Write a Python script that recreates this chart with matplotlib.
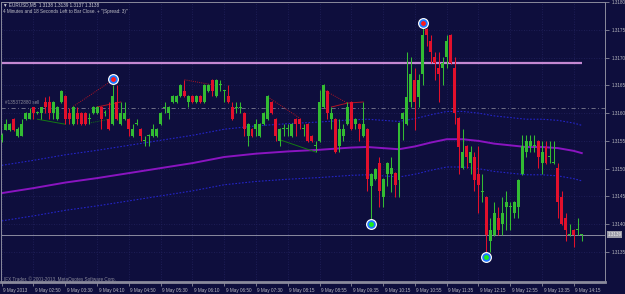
import numpy as np
import matplotlib
matplotlib.use("Agg")
import matplotlib.pyplot as plt
from matplotlib.transforms import ScaledTranslation, blended_transform_factory

plt.rcParams['font.family'] = ['Liberation Sans', 'DejaVu Sans']

# ---------------- data ----------------
symbol = "EURUSD,M5"
header_prices = ["1.3138", "1.3139", "1.3137", "1.3138"]
timer_text = "4 Minutes and 18 Seconds Left to Bar Close. + ''(Spread: 3)''"
copyright_text = "IFX Trader, \u00a9 2001-2013, MetaQuotes Software Corp."
order_label = "#135372880 sell"

opens = [1.31552, 1.31570, 1.31570, 1.31589, 1.31559, 1.31559, 1.31589, 1.31589, 1.31611, 1.31600,
         1.31600, 1.31620, 1.31620, 1.31600, 1.31589, 1.31620, 1.31631, 1.31600, 1.31580, 1.31600,
         1.31600, 1.31600, 1.31589, 1.31600, 1.31600, 1.31611, 1.31600, 1.31589, 1.31580, 1.31620,
         1.31580, 1.31589, 1.31589, 1.31559, 1.31580, 1.31571, 1.31550, 1.31559, 1.31559, 1.31559,
         1.31580, 1.31609, 1.31600, 1.31620, 1.31620, 1.31631, 1.31640, 1.31620, 1.31631, 1.31620,
         1.31631, 1.31620, 1.31640, 1.31660, 1.31631, 1.31650, 1.31640, 1.31631, 1.31611, 1.31610,
         1.31610, 1.31600, 1.31559, 1.31571, 1.31571, 1.31559, 1.31580, 1.31589, 1.31620, 1.31589,
         1.31550, 1.31571, 1.31571, 1.31559, 1.31589, 1.31589, 1.31571, 1.31580, 1.31559, 1.31541,
         1.31550, 1.31611, 1.31640, 1.31589, 1.31589, 1.31541, 1.31559, 1.31580, 1.31620, 1.31580,
         1.31580, 1.31559, 1.31571, 1.31469, 1.31481, 1.31510, 1.31449, 1.31490, 1.31490, 1.31492,
         1.31480, 1.31589, 1.31580, 1.31620, 1.31660, 1.31629, 1.31670, 1.31751, 1.31730, 1.31701,
         1.31681, 1.31681, 1.31701, 1.31741, 1.31681, 1.31591, 1.31501, 1.31541, 1.31510, 1.31521,
         1.31490, 1.31458, 1.31449, 1.31370, 1.31381, 1.31411, 1.31400, 1.31431, 1.31431, 1.31420,
         1.31431, 1.31490, 1.31530, 1.31541, 1.31541, 1.31550, 1.31510, 1.31539, 1.31521, 1.31510,
         1.31501, 1.31449, 1.31411, 1.31381, 1.31390, 1.31389, 1.31380]
highs = [1.31565, 1.31589, 1.31582, 1.31592, 1.31575, 1.31589, 1.31602, 1.31609, 1.31611, 1.31603,
         1.31611, 1.31629, 1.31631, 1.31622, 1.31613, 1.31642, 1.31633, 1.31609, 1.31613, 1.31611,
         1.31602, 1.31602, 1.31600, 1.31613, 1.31613, 1.31613, 1.31605, 1.31620, 1.31651, 1.31651,
         1.31620, 1.31620, 1.31591, 1.31580, 1.31589, 1.31573, 1.31559, 1.31562, 1.31580, 1.31573,
         1.31602, 1.31620, 1.31613, 1.31633, 1.31633, 1.31653, 1.31660, 1.31633, 1.31633, 1.31633,
         1.31633, 1.31653, 1.31653, 1.31662, 1.31662, 1.31660, 1.31642, 1.31651, 1.31620, 1.31620,
         1.31620, 1.31602, 1.31582, 1.31573, 1.31589, 1.31582, 1.31602, 1.31633, 1.31622, 1.31591,
         1.31573, 1.31580, 1.31580, 1.31582, 1.31591, 1.31591, 1.31580, 1.31582, 1.31561, 1.31550,
         1.31642, 1.31653, 1.31642, 1.31611, 1.31591, 1.31589, 1.31580, 1.31620, 1.31622, 1.31591,
         1.31582, 1.31620, 1.31573, 1.31492, 1.31501, 1.31521, 1.31483, 1.31512, 1.31521, 1.31494,
         1.31584, 1.31602, 1.31710, 1.31701, 1.31681, 1.31670, 1.31753, 1.31753, 1.31741, 1.31710,
         1.31710, 1.31701, 1.31741, 1.31743, 1.31701, 1.31593, 1.31571, 1.31543, 1.31541, 1.31530,
         1.31541, 1.31490, 1.31451, 1.31411, 1.31440, 1.31431, 1.31449, 1.31460, 1.31440, 1.31442,
         1.31482, 1.31561, 1.31561, 1.31561, 1.31561, 1.31552, 1.31550, 1.31550, 1.31550, 1.31550,
         1.31510, 1.31460, 1.31420, 1.31400, 1.31392, 1.31411, 1.31383]
lows = [1.31548, 1.31570, 1.31568, 1.31568, 1.31557, 1.31559, 1.31587, 1.31589, 1.31589, 1.31598,
        1.31589, 1.31600, 1.31589, 1.31589, 1.31587, 1.31618, 1.31580, 1.31580, 1.31578, 1.31580,
        1.31578, 1.31578, 1.31580, 1.31598, 1.31598, 1.31571, 1.31595, 1.31569, 1.31578, 1.31587,
        1.31578, 1.31587, 1.31559, 1.31557, 1.31578, 1.31550, 1.31541, 1.31541, 1.31557, 1.31557,
        1.31578, 1.31600, 1.31589, 1.31618, 1.31618, 1.31629, 1.31629, 1.31611, 1.31618, 1.31618,
        1.31618, 1.31618, 1.31638, 1.31631, 1.31629, 1.31640, 1.31620, 1.31618, 1.31587, 1.31600,
        1.31600, 1.31559, 1.31541, 1.31557, 1.31559, 1.31557, 1.31578, 1.31587, 1.31598, 1.31550,
        1.31541, 1.31559, 1.31559, 1.31557, 1.31559, 1.31571, 1.31559, 1.31548, 1.31548, 1.31530,
        1.31548, 1.31609, 1.31589, 1.31571, 1.31528, 1.31530, 1.31550, 1.31578, 1.31569, 1.31571,
        1.31550, 1.31557, 1.31460, 1.31409, 1.31479, 1.31431, 1.31431, 1.31469, 1.31458, 1.31449,
        1.31449, 1.31552, 1.31578, 1.31611, 1.31570, 1.31611, 1.31651, 1.31721, 1.31690, 1.31660,
        1.31620, 1.31651, 1.31681, 1.31688, 1.31580, 1.31490, 1.31499, 1.31501, 1.31490, 1.31460,
        1.31420, 1.31440, 1.31350, 1.31350, 1.31379, 1.31381, 1.31381, 1.31390, 1.31390, 1.31411,
        1.31411, 1.31488, 1.31521, 1.31530, 1.31530, 1.31501, 1.31490, 1.31508, 1.31510, 1.31508,
        1.31411, 1.31398, 1.31370, 1.31379, 1.31359, 1.31381, 1.31370]
closes = [1.31561, 1.31580, 1.31580, 1.31570, 1.31571, 1.31580, 1.31600, 1.31600, 1.31600, 1.31601,
          1.31611, 1.31611, 1.31600, 1.31620, 1.31611, 1.31640, 1.31589, 1.31589, 1.31611, 1.31589,
          1.31580, 1.31580, 1.31590, 1.31611, 1.31611, 1.31589, 1.31601, 1.31571, 1.31631, 1.31589,
          1.31600, 1.31600, 1.31571, 1.31571, 1.31581, 1.31559, 1.31551, 1.31560, 1.31571, 1.31571,
          1.31600, 1.31610, 1.31611, 1.31631, 1.31631, 1.31651, 1.31631, 1.31631, 1.31620, 1.31631,
          1.31620, 1.31651, 1.31651, 1.31640, 1.31660, 1.31651, 1.31641, 1.31620, 1.31589, 1.31611,
          1.31611, 1.31571, 1.31580, 1.31559, 1.31580, 1.31580, 1.31600, 1.31631, 1.31600, 1.31559,
          1.31571, 1.31572, 1.31572, 1.31580, 1.31580, 1.31580, 1.31572, 1.31550, 1.31550, 1.31542,
          1.31620, 1.31651, 1.31600, 1.31600, 1.31530, 1.31571, 1.31571, 1.31611, 1.31571, 1.31589,
          1.31571, 1.31580, 1.31481, 1.31490, 1.31499, 1.31460, 1.31481, 1.31510, 1.31501, 1.31471,
          1.31582, 1.31600, 1.31629, 1.31670, 1.31620, 1.31660, 1.31741, 1.31741, 1.31710, 1.31690,
          1.31670, 1.31690, 1.31730, 1.31690, 1.31600, 1.31539, 1.31530, 1.31521, 1.31530, 1.31480,
          1.31471, 1.31459, 1.31381, 1.31390, 1.31420, 1.31390, 1.31420, 1.31440, 1.31432, 1.31440,
          1.31480, 1.31541, 1.31550, 1.31550, 1.31542, 1.31521, 1.31530, 1.31510, 1.31522, 1.31511,
          1.31440, 1.31400, 1.31390, 1.31382, 1.31381, 1.31390, 1.31381]

# moving average and envelope, read at these bars
ma_bars = [0, 8, 16, 24, 32, 40, 48, 56, 64, 72, 80, 88, 92, 96, 100, 104, 108, 112, 116,
           120, 124, 128, 132, 136, 140, 144, 146]
ma_values = [1.31456, 1.31465, 1.31475, 1.31483, 1.31492, 1.31501, 1.31510, 1.31521, 1.31527,
             1.31531, 1.31534, 1.31538, 1.31539, 1.31537, 1.31535, 1.31540, 1.31547, 1.31553,
             1.31553, 1.31550, 1.31545, 1.31542, 1.31539, 1.31539, 1.31537, 1.31532, 1.31528]
env_upper = [1.31506, 1.31515, 1.31525, 1.31533, 1.31542, 1.31551, 1.31560, 1.31571, 1.31577,
             1.31581, 1.31584, 1.31588, 1.31589, 1.31587, 1.31585, 1.31590, 1.31597, 1.31603,
             1.31603, 1.31600, 1.31595, 1.31592, 1.31589, 1.31589, 1.31587, 1.31582, 1.31578]
env_lower = [1.31406, 1.31415, 1.31425, 1.31433, 1.31442, 1.31451, 1.31460, 1.31471, 1.31477,
             1.31481, 1.31484, 1.31488, 1.31489, 1.31487, 1.31485, 1.31490, 1.31497, 1.31503,
             1.31503, 1.31500, 1.31495, 1.31492, 1.31489, 1.31489, 1.31487, 1.31482, 1.31478]

level_magenta = 1.31690
order_price = 1.31610
bid_price = 1.31381
bid_label = "1.3139"

# fractal-like markers
high_mark_bars = [28, 106]
high_mark_prices = [1.31661, 1.31762]
low_mark_bars = [93, 122]
low_mark_prices = [1.31400, 1.31341]

# order history lines: (bars, prices, colour, style)
trade_lines = [
    ([18, 27], [1.31612, 1.31655], 'red', 'dotted'),
    ([24, 30], [1.31611, 1.31620], 'red', 'solid'),
    ([46, 53], [1.31660, 1.31651], 'red', 'dotted'),
    ([67, 75], [1.31629, 1.31591], 'red', 'dotted'),
    ([81, 87], [1.31642, 1.31618], 'red', 'dotted'),
    ([83, 87, 91], [1.31611, 1.31618, 1.31620], 'red', 'solid'),
    ([9, 16], [1.31589, 1.31580], 'green', 'solid'),
    ([22, 27], [1.31582, 1.31589], 'green', 'dotted'),
    ([70, 79], [1.31552, 1.31530], 'green', 'solid'),
]

price_ticks = [1.3135, 1.3140, 1.3145, 1.3150, 1.3155, 1.3160, 1.3165, 1.3170, 1.3175, 1.3180]
time_tick_bars = [0, 8, 16, 24, 32, 40, 48, 56, 64, 72, 80, 88, 96, 104, 112, 120, 128, 136, 144]
time_labels = ["9 May 2013", "9 May 02:50", "9 May 03:30", "9 May 04:10", "9 May 04:50",
               "9 May 05:30", "9 May 06:10", "9 May 06:50", "9 May 07:30", "9 May 08:15",
               "9 May 08:55", "9 May 09:35", "9 May 10:15", "9 May 10:55", "9 May 11:35",
               "9 May 12:15", "9 May 12:55", "9 May 13:35", "9 May 14:15"]

# ---------------- style ----------------
W, H = 625, 294
BG = '#0e0e3d'
GREEN = '#33bb33'
RED = '#e2102c'
TXT = '#b8b8c0'
AXC = '#8a8a9c'
FS = 3.3

fig = plt.figure(figsize=(W / 100, H / 100), dpi=100)
fig.patch.set_facecolor(BG)

L, R, T, B = 1.5, 605, 2, 282
ax = fig.add_axes([L / W, 1 - B / H, (R - L) / W, (B - T) / H])
ax.set_facecolor(BG)

px_per_bar = 3.973
x0_px = 1.7
ax.set_xlim((L - x0_px) / px_per_bar, (R - x0_px) / px_per_bar)
ax.set_ylim(1.31800 - (B - T) * 1.8e-5, 1.31800)

# grid
ax.set_yticks(price_ticks)
ax.set_xticks(time_tick_bars)
ax.grid(True, color='#22225e', linestyle=(0, (1, 2)), linewidth=0.6, zorder=0)

# envelope and MA
ax.plot(ma_bars, env_upper, color='#2424c8', lw=0.8, ls=(0, (1.5, 1.5)), zorder=2)
ax.plot(ma_bars, env_lower, color='#2424c8', lw=0.8, ls=(0, (1.5, 1.5)), zorder=2)
ax.plot(ma_bars, ma_values, color='#8a14c0', lw=1.4, zorder=2)

# levels
n = len(opens)
ax.plot([0, n - 1], [level_magenta, level_magenta], color='#c488d2', lw=1.6, zorder=3,
        solid_capstyle='butt')
ax.axhline(order_price, color='#7c7c90', lw=0.6, ls=(0, (5, 3, 1, 3)), zorder=1)
ax.axhline(bid_price, color='#8a8aa0', lw=0.7, zorder=1)

# trade lines
tl_col = {'red': '#b01424', 'green': '#137a13'}
for bars, prices, col, style in trade_lines:
    ls = (0, (1, 1.2)) if style == 'dotted' else '-'
    ax.plot(bars, prices, color=tl_col[col], lw=0.7, ls=ls, zorder=3)

# candles
o = np.array(opens); h = np.array(highs); l = np.array(lows); c = np.array(closes)
idx = np.arange(n)
up = c >= o
cols = np.where(up, GREEN, RED)
ax.vlines(idx, l, h, colors=cols, lw=0.75, zorder=4)
body_lo = np.minimum(o, c)
body_h = np.maximum(np.abs(c - o), 1.8e-5)
ax.bar(idx, body_h, bottom=body_lo, width=0.75, color=cols, linewidth=0, zorder=5)

# markers
for bars, prices, centre in ((high_mark_bars, high_mark_prices, '#ff1a1a'),
                             (low_mark_bars, low_mark_prices, '#1aee1a')):
    ax.scatter(bars, prices, s=62, color='white', zorder=6, linewidths=0)
    ax.scatter(bars, prices, s=38, color='#1f78ff', zorder=7, linewidths=0)
    ax.scatter(bars, prices, s=12, color=centre, zorder=8, linewidths=0)

# axes styling
for side in ('left', 'top', 'right'):
    ax.spines[side].set_color(AXC)
    ax.spines[side].set_linewidth(0.7)
ax.spines['bottom'].set_color(AXC)
ax.spines['bottom'].set_linewidth(2.0)

ax.yaxis.tick_right()
ax.set_yticklabels([f"{p:.4f}" for p in price_ticks])
ax.tick_params(axis='y', direction='out', length=3, width=0.6, colors=AXC,
               labelcolor=TXT, labelsize=FS, pad=1.5)
ax.set_xticklabels(time_labels)
ax.tick_params(axis='x', direction='out', length=3, width=0.6, colors=AXC,
               labelcolor=TXT, labelsize=FS, pad=1.0)
off = ScaledTranslation(1.5 / 100, 0, fig.dpi_scale_trans)
for lab in ax.get_xticklabels():
    lab.set_horizontalalignment('left')
    lab.set_transform(lab.get_transform() + off)

# bid label box on price axis
btr = blended_transform_factory(ax.transAxes, ax.transData)
ax.text(1.0 + 2.5 / (R - L), bid_price, bid_label, transform=btr, ha='left', va='center',
        fontsize=FS, color='#f0f0f0', clip_on=False,
        bbox=dict(boxstyle='square,pad=0.18', fc='#9a9aa6', ec='none'))

# order label
ax.text(0.8, order_price + 0.00005, order_label, fontsize=FS, color='#8a8a9a',
        ha='left', va='bottom', zorder=6)

# header texts
fig.text(3 / W, 1 - 5 / H, "\u25bc " + symbol + "  " + " ".join(header_prices),
         fontsize=FS, color='#d0d0d8', ha='left', va='center')
fig.text(3 / W, 1 - 11 / H, timer_text, fontsize=FS, color='#c0c0c8', ha='left', va='center')
fig.text(4 / W, 1 - 279 / H, copyright_text, fontsize=FS, color='#8a8a9a', ha='left',
         va='center')

fig.savefig("out.png", dpi=100, facecolor=BG)
